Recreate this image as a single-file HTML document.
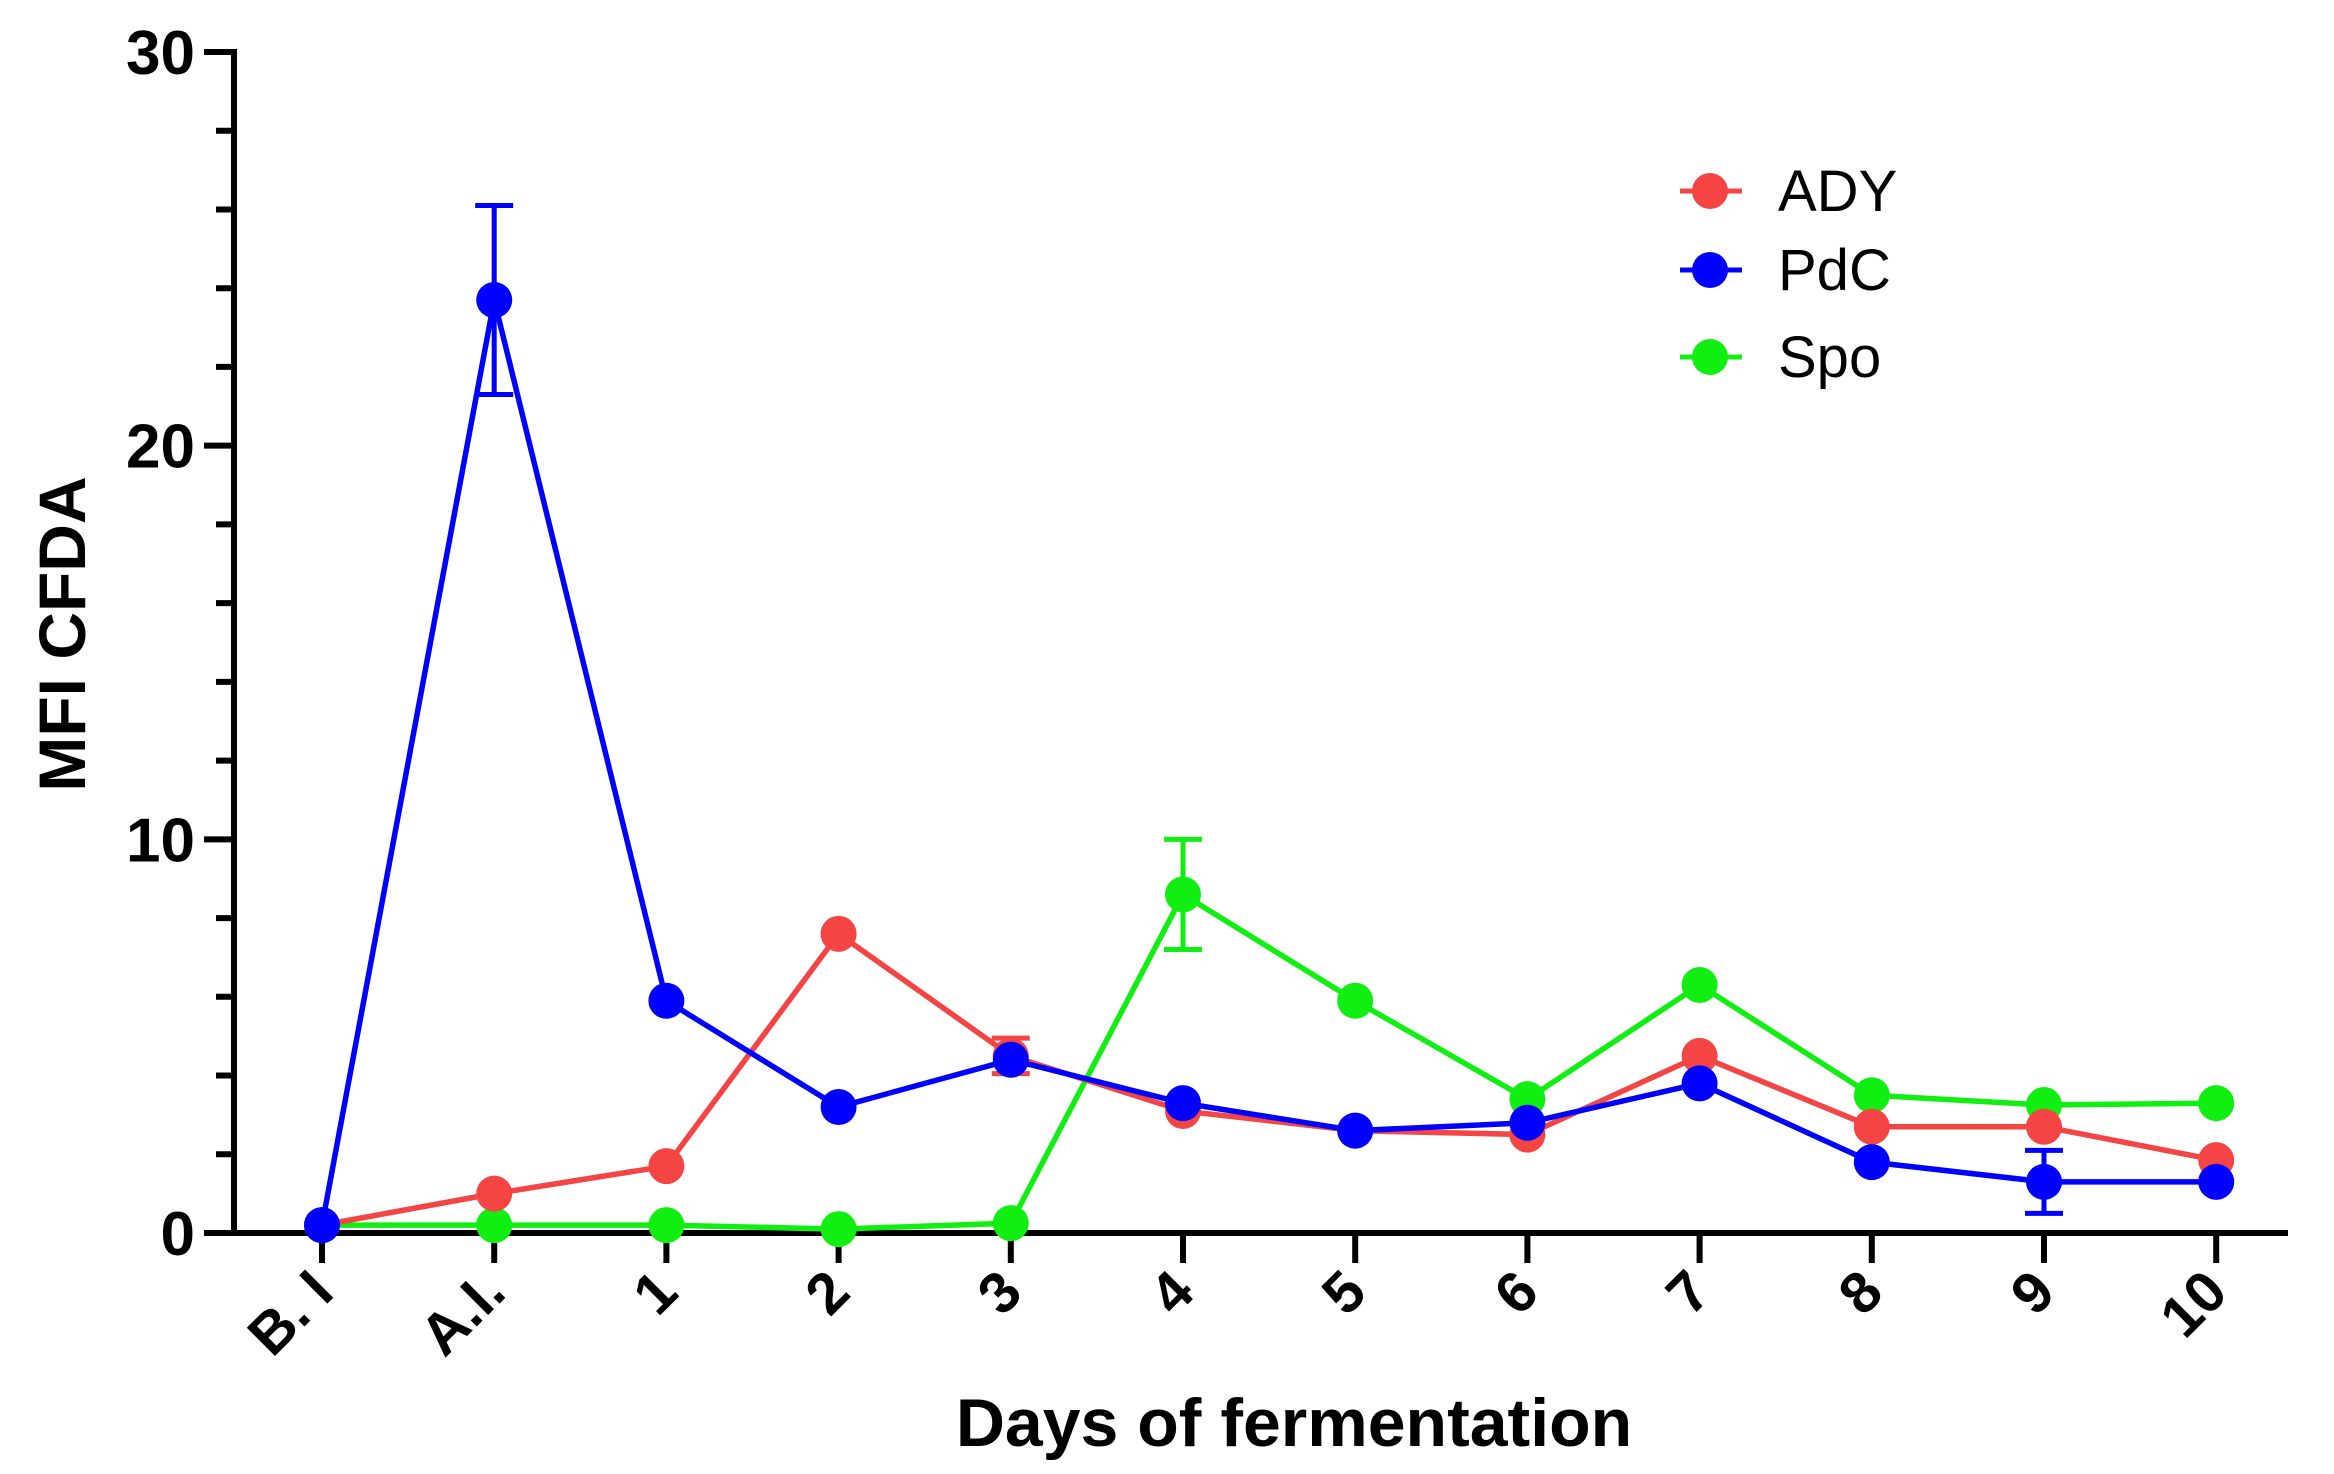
<!DOCTYPE html>
<html><head><meta charset="utf-8"><style>
html,body{margin:0;padding:0;background:#fff;}
svg{display:block;font-family:"Liberation Sans",Arial,sans-serif;}
</style></head><body>
<svg id="chart" width="2334" height="1474" viewBox="0 0 2334 1474">
<g id="axes"></g>
<g id="series"></g>
<text transform="translate(85,634) rotate(-90)" text-anchor="middle" font-size="66" font-weight="bold" fill="#000">MFI CFDA</text>
<text x="1294" y="1446" text-anchor="middle" font-size="68" font-weight="bold" fill="#000">Days of fermentation</text>
<g id="legend"></g>
</svg>
<script>
const categories = ["B. I","A.I.","1","2","3","4","5","6","7","8","9","10"];
const seriesNames = ["ADY","PdC","Spo"];
const adyValues = [0.2,1.0,1.7,7.6,4.5,3.1,2.6,2.5,4.5,2.7,2.7,1.85];
const pdcValues = [0.2,23.7,5.9,3.2,4.4,3.3,2.6,2.8,3.8,1.8,1.3,1.3];
const spoValues = [0.2,0.2,0.2,0.1,0.25,8.6,5.9,3.4,6.3,3.5,3.25,3.3];
const adyErrors = [0,0,0,0,0.45,0,0,0,0,0,0,0];
const pdcErrors = [0,2.4,0,0,0,0,0,0,0,0,0.8,0];
const spoErrors = [0,0,0,0,0,1.4,0,0,0,0,0,0];
const yTicks = [0,10,20,30];
const yMinorTicks = [2,4,6,8,12,14,16,18,22,24,26,28];

const NS="http://www.w3.org/2000/svg";
const X0=322, DX=172.2, Y0=1233, Y1=52, YMAX=30, AXX=234, AXR=2288;
function xs(i){return X0+i*DX;}
function ys(v){return Y0-(v/YMAX)*(Y0-Y1);}
function mk(tag,attrs,parent){const e=document.createElementNS(NS,tag);for(const k in attrs)e.setAttribute(k,attrs[k]);parent.appendChild(e);return e;}
const axes=document.getElementById('axes');
let e=mk('line',{x1:AXX,y1:Y1-3,x2:AXX,y2:Y0+3,stroke:'#000','stroke-width':6},axes);


e=mk('line',{x1:AXX-3,y1:Y0,x2:AXR,y2:Y0,stroke:'#000','stroke-width':6},axes);


yTicks.forEach(v=>{
  const t=mk('line',{x1:AXX-30,y1:ys(v),x2:AXX,y2:ys(v),stroke:'#000','stroke-width':6},axes);
  
  
  const l=mk('text',{x:195,y:ys(v)+22,'text-anchor':'end','font-size':62,'font-weight':'bold',fill:'#000'},axes);
  l.textContent=v;
  
  
});
yMinorTicks.forEach(v=>{
  const t=mk('line',{x1:AXX-18,y1:ys(v),x2:AXX,y2:ys(v),stroke:'#000','stroke-width':6},axes);
  
  
});
categories.forEach((c,i)=>{
  const t=mk('line',{x1:xs(i),y1:Y0,x2:xs(i),y2:Y0+30,stroke:'#000','stroke-width':6},axes);
  
  
  const l=mk('text',{transform:`translate(${xs(i)+14},${Y0+62}) rotate(-45)`,'text-anchor':'end','font-size':58,'font-weight':'bold',fill:'#000'},axes);
  l.textContent=c;
  
  
});
const colors=['#f44444','#0000ff','#11ee11'];
const allVals=[adyValues,pdcValues,spoValues];
const allErr=[adyErrors,pdcErrors,spoErrors];
const ser=document.getElementById('series');
[2,0,1].forEach(s=>{
  const g=mk('g',{},ser);
  
  
  const vals=allVals[s], err=allErr[s];
  const p=mk('polyline',{points:vals.map((v,i)=>xs(i)+','+ys(v)).join(' '),fill:'none',stroke:colors[s],'stroke-width':5.5},g);
  
  
  vals.forEach((v,i)=>{
    if(err[i]>0){
      const eg=mk('g',{stroke:colors[s],'stroke-width':5},g);
      
      
      mk('line',{x1:xs(i),y1:ys(v+err[i]),x2:xs(i),y2:ys(v-err[i])},eg);
      mk('line',{x1:xs(i)-19,y1:ys(v+err[i]),x2:xs(i)+19,y2:ys(v+err[i])},eg);
      mk('line',{x1:xs(i)-19,y1:ys(v-err[i]),x2:xs(i)+19,y2:ys(v-err[i])},eg);
    }
    const c=mk('circle',{cx:xs(i),cy:ys(v),r:18,fill:colors[s]},g);
    
    
  });
});
const leg=document.getElementById('legend');
const legY=[191,270,357];
seriesNames.forEach((n,s)=>{
  const g=mk('g',{},leg);
  
  
  mk('line',{x1:1680,y1:legY[s],x2:1742,y2:legY[s],stroke:colors[s],'stroke-width':5},g);
  mk('circle',{cx:1710,cy:legY[s],r:18,fill:colors[s]},g);
  const t=mk('text',{x:1778,y:legY[s]+20,'font-size':58,fill:'#000'},g);
  t.textContent=n;
});
</script>
</body></html>
